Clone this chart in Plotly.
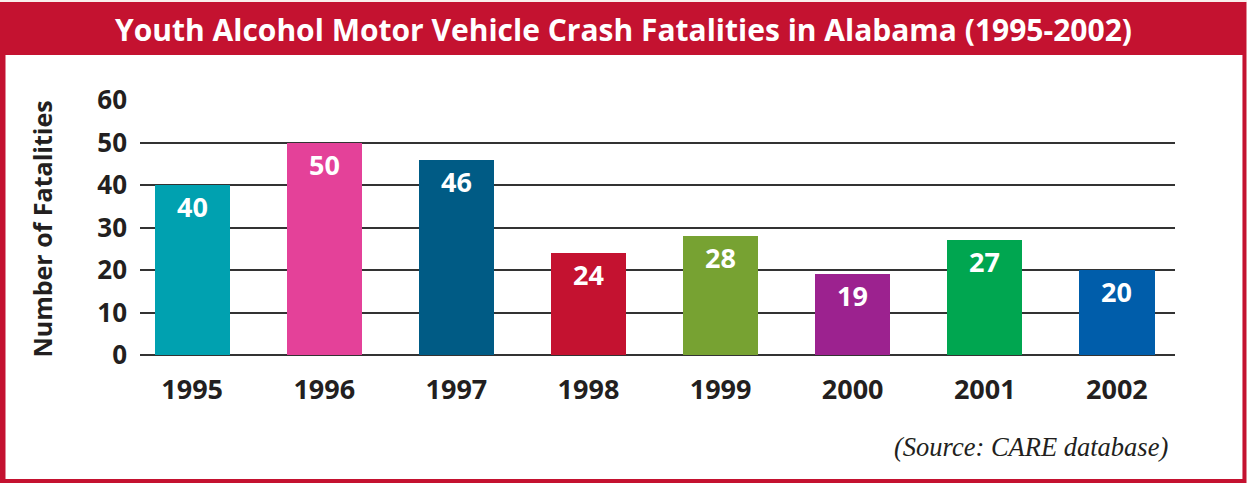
import plotly.graph_objects as go

years = ["1995", "1996", "1997", "1998", "1999", "2000", "2001", "2002"]
fatalities = [40, 50, 46, 24, 28, 19, 27, 20]
bar_colors = ["#00A1B0", "#E44199", "#005B85", "#C41230", "#77A232", "#9C228F", "#00A650", "#005DAA"]
y_ticks = [0, 10, 20, 30, 40, 50, 60]

title_text = "Youth Alcohol Motor Vehicle Crash Fatalities in Alabama (1995-2002)"
y_title = "Number of Fatalities"
source_text = "(Source: CARE database)"

W, H = 1247, 483
L, R, T, B = 140.4, 1174.6, 100, 355  # plot area pixels
pw, ph = R - L, B - T

def px(x):
    return (x - L) / pw

def py(y):
    return (B - y) / ph

RED = "#C41230"
DARK = "#231F20"

fig = go.Figure()
fig.add_trace(go.Bar(
    x=years, y=fatalities, marker=dict(color=bar_colors, line=dict(width=0)),
    width=0.57, hoverinfo="x+y",
))

for i, v in enumerate(fatalities):
    fig.add_annotation(x=i, y=v, text=f"<b>{v}</b>", showarrow=False,
                       yanchor="top", yshift=-1,
                       font=dict(family="Open Sans", size=27, color="white"))

shapes = [
    dict(type="rect", xref="paper", yref="paper", x0=px(0), x1=px(1246), y0=py(2), y1=py(483),
         fillcolor=RED, line=dict(width=0), layer="below"),
    dict(type="rect", xref="paper", yref="paper", x0=px(6), x1=px(1242), y0=py(55), y1=py(479),
         fillcolor="white", line=dict(width=0), layer="below"),
]
fig.update_layout(shapes=shapes)

fig.add_annotation(xref="paper", yref="paper", x=px(624), y=py(29), text=f"<b>{title_text}</b>",
                   showarrow=False, xanchor="center", yanchor="middle",
                   font=dict(family="Open Sans", size=30, color="white"))
fig.add_annotation(xref="paper", yref="paper", x=px(42), y=py(229), text=f"<b>{y_title}</b>",
                   showarrow=False, textangle=-90, xanchor="center", yanchor="middle",
                   font=dict(family="Open Sans", size=25, color=DARK))
fig.add_annotation(xref="paper", yref="paper", x=px(1170), y=py(447), text=f"<i>{source_text}</i>",
                   showarrow=False, xanchor="right", yanchor="middle",
                   font=dict(family="Liberation Serif", size=26.5, color=DARK))

fig.update_xaxes(range=[-0.395, 7.44], showgrid=False, showline=False, zeroline=False,
                 ticks="", ticklabelstandoff=16,
                 tickfont=dict(family="Open Sans", size=27, color=DARK, weight="bold"))
fig.update_yaxes(range=[0, 60], tickvals=y_ticks, showgrid=True, gridcolor="#333333", gridwidth=1.5,
                 zeroline=True, zerolinecolor="#333333", zerolinewidth=1.5, showline=False,
                 ticks="", ticklabelstandoff=12,
                 tickfont=dict(family="Open Sans", size=26, color=DARK, weight="bold"))

fig.update_layout(
    width=W, height=H, autosize=False,
    margin=dict(l=L, r=W - R, t=T, b=H - B, pad=0),
    paper_bgcolor="#FAEFEC", plot_bgcolor="rgba(0,0,0,0)",
    showlegend=False, bargap=0,
)

fig.write_html("out.html", config={"displayModeBar": False},
               post_script="document.body.style.margin='0';")
